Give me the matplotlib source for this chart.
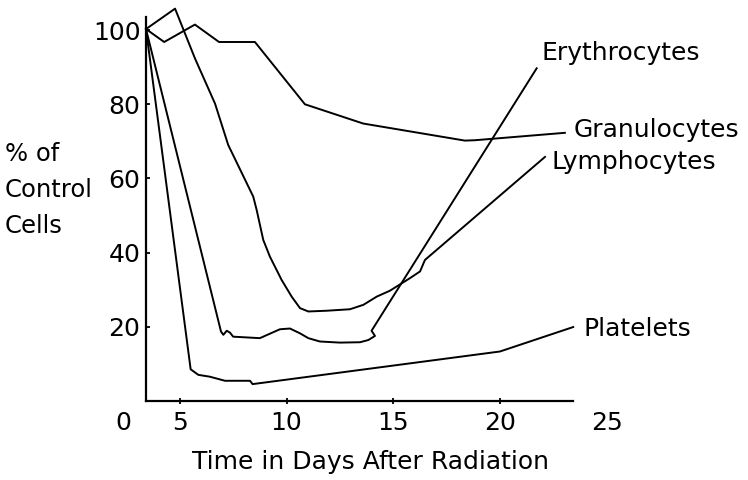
import matplotlib
matplotlib.use("Agg")
import matplotlib.pyplot as plt

# values (days after radiation, % of control cells)
gran_days = [3.42, 4.27, 5.71, 6.84, 8.52, 10.86, 13.59, 18.35, 18.82, 23.03]
gran_vals = [100.3, 96.8, 101.5, 96.8, 96.8, 80.0, 74.8, 70.2, 70.3, 72.3]

lymph_days = [3.42, 4.78, 5.71, 6.65, 7.27, 8.44, 8.6, 8.91, 9.22, 9.77, 10.24,
              10.63, 11.02, 11.88, 12.97, 13.6, 14.22, 14.84, 15.78, 16.25,
              16.48, 22.1]
lymph_vals = [100.3, 105.8, 92.4, 80.2, 69.0, 55.1, 51.5, 43.4, 38.9, 32.6, 28.1,
              25.0, 24.1, 24.3, 24.7, 25.9, 28.1, 29.7, 33.1, 34.9, 38.0, 65.8]

eryth_days = [3.42, 6.93, 7.04, 7.2, 7.35, 7.5, 8.13, 8.75, 9.22, 9.69, 10.16,
              10.63, 11.02, 11.56, 12.5, 13.44, 13.83, 14.14, 13.98, 21.71]
eryth_vals = [100.3, 18.7, 17.8, 18.9, 18.4, 17.3, 17.1, 16.9, 18.1, 19.3, 19.5,
              18.2, 16.9, 16.0, 15.7, 15.8, 16.4, 17.5, 18.9, 89.7]

plat_days = [3.42, 5.51, 5.87, 6.41, 7.12, 8.29, 8.41, 19.99, 23.42]
plat_vals = [100.3, 8.5, 7.0, 6.5, 5.4, 5.4, 4.5, 13.3, 19.9]

labels = ["Erythrocytes", "Granulocytes", "Lymphocytes", "Platelets"]
label_pos = [(21.94, 93.8), (23.42, 73.0), (22.41, 64.5), (23.89, 19.3)]

yticks = [20, 40, 60, 80, 100]
xticks = [5, 10, 15, 20]

fig = plt.figure(figsize=(7.48, 4.80), dpi=100)
ax = fig.add_axes([0.1952, 0.165, 0.766 - 0.1952, 0.965 - 0.165])

for d, v in [(gran_days, gran_vals), (lymph_days, lymph_vals),
             (eryth_days, eryth_vals), (plat_days, plat_vals)]:
    ax.plot(d, v, color="black", lw=1.4, clip_on=False)

for name, (x, y) in zip(labels, label_pos):
    ax.text(x, y, name, fontsize=18, va="center", ha="left", clip_on=False)

ax.set_xlim(3.42, 23.41)
ax.set_ylim(0, 103.6)
ax.set_xticks(xticks)
ax.set_yticks(yticks)
ax.tick_params(axis="x", direction="inout", length=5, width=1.3,
               labelsize=18, pad=5)
ax.tick_params(axis="y", direction="in", length=3, width=1.3,
               labelsize=18, pad=4)
for s in ["top", "right"]:
    ax.spines[s].set_visible(False)
for s in ["left", "bottom"]:
    ax.spines[s].set_linewidth(1.6)

# corner labels that sit outside the drawn axis range
ax.text(2.34, -5.9, "0", fontsize=18, ha="center", va="center", clip_on=False)
ax.text(25.0, -5.9, "25", fontsize=18, ha="center", va="center", clip_on=False)

fig.text(0.2563, 1 - 461.7 / 480, "Time in Days After Radiation",
         fontsize=18, ha="left", va="center")
fig.text(5 / 748, 1 - 190 / 480, "% of\nControl\nCells", fontsize=17.5,
         ha="left", va="center", linespacing=1.65)

fig.savefig("out.png", dpi=100)
